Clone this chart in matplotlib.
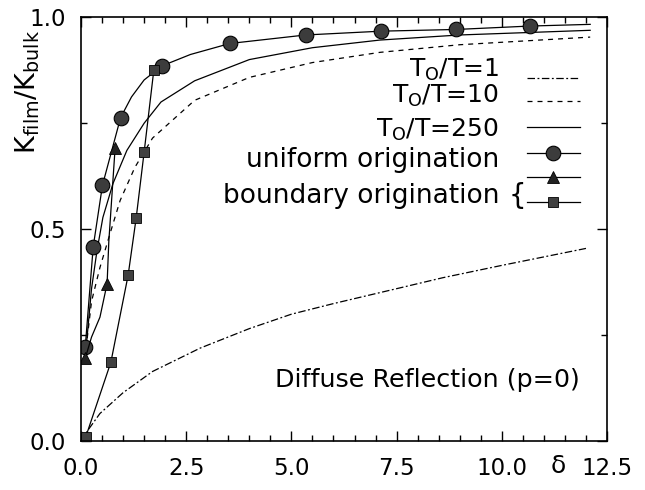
import numpy as np
import matplotlib
matplotlib.use("Agg")
from matplotlib import pyplot as plt
from matplotlib.ticker import MultipleLocator, FormatStrFormatter

plt.rcParams['font.family'] = ['DejaVu Sans']
plt.rcParams['mathtext.fontset'] = 'dejavusans'

# T0/T = 1 (dash-dot)
t1_x = [0.0, 0.16, 0.45, 1.0, 1.7, 2.83, 4.0, 5.0, 6.0, 7.58, 8.6, 10.0, 11.0, 12.0]
t1_y = [0.0, 0.026, 0.066, 0.115, 0.165, 0.22, 0.266, 0.30, 0.325, 0.362, 0.386, 0.415, 0.435, 0.455]

# T0/T = 10 (dashed)
t10_x = [0.12, 0.25, 0.45, 0.69, 0.93, 1.28, 1.7, 2.7, 4.0, 5.5, 7.1, 9.0, 12.1]
t10_y = [0.22, 0.33, 0.41, 0.49, 0.568, 0.646, 0.715, 0.804, 0.858, 0.893, 0.917, 0.935, 0.953]

# T0/T = 250 (solid)
t250_x = [0.12, 0.25, 0.38, 0.52, 0.76, 1.09, 1.5, 1.9, 2.7, 4.0, 5.5, 7.1, 9.0, 12.1]
t250_y = [0.22, 0.36, 0.45, 0.528, 0.608, 0.686, 0.75, 0.80, 0.85, 0.90, 0.928, 0.946, 0.958, 0.969]

# uniform origination (circles) and the curve through them
uni_x = [0.1, 0.29, 0.51, 0.94, 1.92, 3.54, 5.34, 7.14, 8.92, 10.66]
uni_y = [0.222, 0.459, 0.604, 0.763, 0.885, 0.938, 0.958, 0.967, 0.971, 0.979]
uni_line_x = [0.1, 0.29, 0.51, 0.94, 1.2, 1.5, 1.92, 2.6, 3.54, 5.34, 7.14, 8.92, 10.66, 12.1]
uni_line_y = [0.222, 0.459, 0.604, 0.763, 0.812, 0.852, 0.885, 0.912, 0.938, 0.958, 0.967, 0.971, 0.979, 0.983]

# boundary origination (triangles, squares)
tri_x = [0.1, 0.62, 0.81]
tri_y = [0.196, 0.372, 0.691]
tri_line_x = [0.1, 0.25, 0.45, 0.62, 0.66, 0.81]
tri_line_y = [0.196, 0.246, 0.293, 0.372, 0.47, 0.691]
sq_x = [0.11, 0.71, 1.12, 1.31, 1.5, 1.73]
sq_y = [0.01, 0.187, 0.392, 0.526, 0.682, 0.875]

fig = plt.figure(figsize=(6.45, 4.9), dpi=100)
ax = fig.add_axes([0.1256, 0.099, 0.8155, 0.866])

lw = 0.9
dashdot = (0, (6, 2, 1.5, 2))
dashed = (0, (4, 4))
ax.plot(t1_x, t1_y, color='black', lw=lw, linestyle=dashdot)
ax.plot(t10_x, t10_y, color='black', lw=lw, linestyle=dashed)
ax.plot(t250_x, t250_y, color='black', lw=lw)
ax.plot(uni_line_x, uni_line_y, color='black', lw=lw)
ax.plot(uni_x, uni_y, 'o', ms=10.5, mfc='#3c3c3c', mec='black', mew=0.8)
ax.plot(tri_line_x, tri_line_y, color='black', lw=lw)
ax.plot(tri_x, tri_y, '^', ms=9, mfc='#222222', mec='black', mew=0.6)
ax.plot(sq_x, sq_y, color='black', lw=lw, marker='s', ms=7.5, mfc='#404040', mec='black', mew=0.6)

ax.set_xlim(0, 12.5)
ax.set_ylim(0, 1.0)
ax.xaxis.set_major_locator(MultipleLocator(2.5))
ax.xaxis.set_minor_locator(MultipleLocator(0.5))
ax.yaxis.set_major_locator(MultipleLocator(0.5))
ax.yaxis.set_minor_locator(MultipleLocator(0.25))
ax.tick_params(which='both', direction='in', top=True, right=True, width=1)
ax.tick_params(which='major', length=7, labelsize=16.5, pad=11)
ax.tick_params(which='minor', length=4)
ax.xaxis.set_major_formatter(FormatStrFormatter('%.1f'))
ax.yaxis.set_major_formatter(FormatStrFormatter('%.1f'))
for s in ax.spines.values():
    s.set_linewidth(1.2)

fig.text(0.043, 0.812, r'K$_{\rm film}$/K$_{\rm bulk}$', rotation=90,
         ha='center', va='center', fontsize=19.5)
ax.text(0.908, -0.058, '\u03b4', transform=ax.transAxes, ha='center',
        va='center', fontsize=18)
ax.text(0.949, 0.129, 'Diffuse Reflection (p=0)', transform=ax.transAxes,
        ha='right', va='baseline', fontsize=18.3)

# legend drawn by hand
tx = 0.795
lx = [0.847, 0.949]
mx = 0.898
fs = 18
ax.text(tx, 0.859, r'T$_{\rm O}$/T=1', transform=ax.transAxes, ha='right', va='baseline', fontsize=fs)
ax.plot(lx, [0.856, 0.856], transform=ax.transAxes, color='black', lw=lw, linestyle=dashdot)
ax.text(tx, 0.797, r'T$_{\rm O}$/T=10', transform=ax.transAxes, ha='right', va='baseline', fontsize=fs)
ax.plot(lx, [0.802, 0.802], transform=ax.transAxes, color='black', lw=lw, linestyle=dashed)
ax.text(tx, 0.718, r'T$_{\rm O}$/T=250', transform=ax.transAxes, ha='right', va='baseline', fontsize=fs)
ax.plot(lx, [0.741, 0.741], transform=ax.transAxes, color='black', lw=lw)
ax.text(tx, 0.647, 'uniform origination', transform=ax.transAxes, ha='right', va='baseline', fontsize=19)
ax.plot(lx, [0.680, 0.680], transform=ax.transAxes, color='black', lw=lw)
ax.plot([mx], [0.680], 'o', transform=ax.transAxes, ms=10.5, mfc='#3c3c3c', mec='black', mew=0.8)
ax.text(tx, 0.562, 'boundary origination', transform=ax.transAxes, ha='right', va='baseline', fontsize=19)
ax.text(0.812, 0.578, '{', transform=ax.transAxes, ha='left', va='center', fontsize=20)
ax.plot(lx, [0.623, 0.623], transform=ax.transAxes, color='black', lw=lw)
ax.plot([mx], [0.623], '^', transform=ax.transAxes, ms=9, mfc='#222222', mec='black', mew=0.6)
ax.plot(lx, [0.564, 0.564], transform=ax.transAxes, color='black', lw=lw)
ax.plot([mx], [0.564], 's', transform=ax.transAxes, ms=7.5, mfc='#404040', mec='black', mew=0.6)

fig.savefig('out.png', dpi=100)
